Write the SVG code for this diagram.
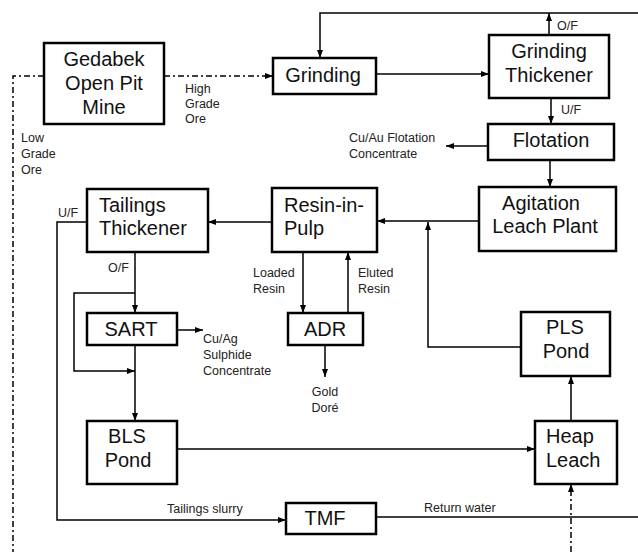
<svg xmlns="http://www.w3.org/2000/svg" width="638" height="552" viewBox="0 0 638 552">
<defs>
<style>
.box{fill:#fff;stroke:#000;stroke-width:2.5}
.big{font-family:"Liberation Sans",Arial,sans-serif;font-size:20px;fill:#111}
.mid{text-anchor:middle}
.lbl{font-family:"Liberation Sans",Arial,sans-serif;font-size:12.5px;fill:#222}
.ln{fill:none;stroke:#000;stroke-width:1.5}
.dd{fill:none;stroke:#000;stroke-width:1.5;stroke-dasharray:6 3 2 3}
</style>
<marker id="ah" markerUnits="userSpaceOnUse" markerWidth="8" markerHeight="6" refX="8" refY="3" orient="auto">
<path d="M0,0 L8,3 L0,6 z" fill="#000"/>
</marker>
</defs>
<rect width="638" height="552" fill="#fff"/>

<g id="connectors">
<path class="dd" d="M164,76 L273,76" marker-end="url(#ah)"/>
<path class="dd" d="M44,76 L13,76 L13,552"/>
<path class="ln" d="M376,74 L489,74" marker-end="url(#ah)"/>
<path class="ln" d="M549,35 L549,13" marker-end="url(#ah)"/>
<path class="ln" d="M638,13 L320,13 L320,58" marker-end="url(#ah)"/>
<path class="ln" d="M551,98 L551,124" marker-end="url(#ah)"/>
<path class="ln" d="M488,146 L446,146" marker-end="url(#ah)"/>
<path class="ln" d="M550,160 L550,187" marker-end="url(#ah)"/>
<path class="ln" d="M479,221 L377,221" marker-end="url(#ah)"/>
<path class="ln" d="M521,347 L428,347 L428,222" marker-end="url(#ah)"/>
<path class="ln" d="M272,222 L208,222" marker-end="url(#ah)"/>
<path class="ln" d="M303,252 L303,313" marker-end="url(#ah)"/>
<path class="ln" d="M348,313 L348,252" marker-end="url(#ah)"/>
<path class="ln" d="M325,345 L325,377" marker-end="url(#ah)"/>
<path class="ln" d="M135,252 L135,313" marker-end="url(#ah)"/>
<path class="ln" d="M135,293 L74,293 L74,371 L135,371" marker-end="url(#ah)"/>
<path class="ln" d="M177,330 L203,330" marker-end="url(#ah)"/>
<path class="ln" d="M135,345 L135,421" marker-end="url(#ah)"/>
<path class="ln" d="M177,449 L535,449" marker-end="url(#ah)"/>
<path class="ln" d="M571,421 L571,376" marker-end="url(#ah)"/>
<path class="dd" d="M571,552 L571,484" marker-end="url(#ah)"/>
<path class="ln" d="M87,222 L57,222 L57,520 L286,520" marker-end="url(#ah)"/>
<path class="ln" d="M376,517 L638,517"/>
</g>

<g id="labels">
<text class="lbl" x="185" y="93">High</text>
<text class="lbl" x="185" y="108">Grade</text>
<text class="lbl" x="185" y="123">Ore</text>
<text class="lbl" x="21" y="142">Low</text>
<text class="lbl" x="21" y="158">Grade</text>
<text class="lbl" x="21" y="174">Ore</text>
<text class="lbl" x="557" y="30">O/F</text>
<text class="lbl" x="561" y="114">U/F</text>
<text class="lbl" x="349" y="142">Cu/Au Flotation</text>
<text class="lbl" x="349" y="158">Concentrate</text>
<text class="lbl" x="58" y="217">U/F</text>
<text class="lbl" x="108" y="272">O/F</text>
<text class="lbl" x="253" y="277">Loaded</text>
<text class="lbl" x="253" y="293">Resin</text>
<text class="lbl" x="358" y="277">Eluted</text>
<text class="lbl" x="358" y="293">Resin</text>
<text class="lbl" x="203" y="343">Cu/Ag</text>
<text class="lbl" x="203" y="359">Sulphide</text>
<text class="lbl" x="203" y="375">Concentrate</text>
<text class="lbl mid" x="325" y="396">Gold</text>
<text class="lbl mid" x="325" y="412">Doré</text>
<text class="lbl" x="167" y="513">Tailings slurry</text>
<text class="lbl" x="424" y="512">Return water</text>
</g>

<g id="gedabek">
<rect class="box" x="44" y="43" width="120" height="81"/>
<text class="big mid" x="104" y="66">Gedabek</text>
<text class="big mid" x="104" y="90">Open Pit</text>
<text class="big mid" x="104" y="114">Mine</text>
</g>
<g id="grinding">
<rect class="box" x="273" y="58" width="103" height="36"/>
<text class="big mid" x="323" y="82">Grinding</text>
</g>
<g id="grinding-thickener">
<rect class="box" x="489" y="35" width="120" height="63"/>
<text class="big mid" x="549" y="58">Grinding</text>
<text class="big mid" x="549" y="82">Thickener</text>
</g>
<g id="flotation">
<rect class="box" x="488" y="124" width="126" height="36"/>
<text class="big mid" x="551" y="147">Flotation</text>
</g>
<g id="agitation-leach">
<rect class="box" x="479" y="187" width="137" height="64"/>
<text class="big mid" x="541" y="210">Agitation</text>
<text class="big mid" x="545" y="233">Leach Plant</text>
</g>
<g id="resin-in-pulp">
<rect class="box" x="272" y="188" width="105" height="64"/>
<text class="big" x="284" y="212">Resin-in-</text>
<text class="big" x="284" y="235">Pulp</text>
</g>
<g id="tailings-thickener">
<rect class="box" x="87" y="189" width="121" height="63"/>
<text class="big" x="99" y="212">Tailings</text>
<text class="big" x="99" y="235">Thickener</text>
</g>
<g id="sart">
<rect class="box" x="87" y="313" width="90" height="32"/>
<text class="big mid" x="131" y="336">SART</text>
</g>
<g id="adr">
<rect class="box" x="288" y="313" width="75" height="32"/>
<text class="big mid" x="325" y="336">ADR</text>
</g>
<g id="pls-pond">
<rect class="box" x="521" y="312" width="89" height="64"/>
<text class="big mid" x="565" y="334">PLS</text>
<text class="big mid" x="566" y="358">Pond</text>
</g>
<g id="bls-pond">
<rect class="box" x="87" y="421" width="90" height="63"/>
<text class="big mid" x="127" y="443">BLS</text>
<text class="big mid" x="128" y="467">Pond</text>
</g>
<g id="heap-leach">
<rect class="box" x="535" y="421" width="82" height="63"/>
<text class="big" x="546" y="443">Heap</text>
<text class="big" x="546" y="467">Leach</text>
</g>
<g id="tmf">
<rect class="box" x="286" y="503" width="90" height="31"/>
<text class="big mid" x="325" y="525">TMF</text>
</g>
</svg>
